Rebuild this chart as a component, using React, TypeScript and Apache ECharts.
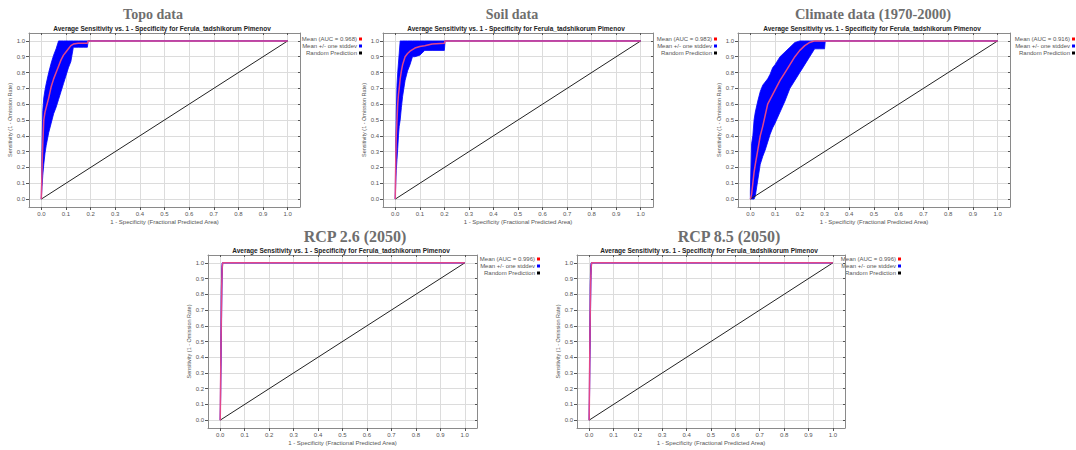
import React, { useEffect, useRef } from "react";
import * as echarts from "echarts";

// ---------- data ----------
const TICKS = [0, 0.1, 0.2, 0.3, 0.4, 0.5, 0.6, 0.7, 0.8, 0.9, 1.0];
const SUBTITLE = "Average Sensitivity vs. 1 - Specificity for Ferula_tadshikorum Pimenov";
const X_NAME = "1 - Specificity (Fractional Predicted Area)";
const Y_NAME = "Sensitivity (1 - Omission Rate)";
const PANEL_TITLES = ["Topo data", "Soil data", "Climate data (1970-2000)", "RCP 2.6 (2050)", "RCP 8.5 (2050)"];
const AUC = ["0.968", "0.983", "0.916", "0.996", "0.996"];
const LEGEND_LABELS = ["Mean (AUC = {auc})", "Mean +/- one stddev", "Random Prediction"];

const RANDOM_X = [0, 1];
const RANDOM_Y = [0, 1];

// Topo
const topoX = [0, 0.003, 0.006, 0.01, 0.015, 0.02, 0.03, 0.04, 0.05, 0.06, 0.07, 0.08, 0.09, 0.1, 0.11, 0.12, 0.13, 0.15, 0.17, 0.187, 0.19, 1.0];
const topoMean = [0, 0.2, 0.35, 0.5, 0.55, 0.58, 0.64, 0.71, 0.76, 0.8, 0.84, 0.88, 0.91, 0.93, 0.95, 0.97, 0.98, 0.985, 0.985, 0.985, 1.0, 1.0];
const topoUpper = [0, 0.35, 0.56, 0.64, 0.69, 0.73, 0.8, 0.86, 0.91, 0.95, 1.0, 1.0, 1.0, 1.0, 1.0, 1.0, 1.0, 1.0, 1.0, 1.0, 1.0, 1.0];
const topoLower = [0, 0.08, 0.15, 0.22, 0.29, 0.34, 0.42, 0.48, 0.54, 0.58, 0.63, 0.68, 0.73, 0.78, 0.83, 0.87, 0.96, 0.96, 0.96, 0.96, 1.0, 1.0];

// Soil
const soilX = [0, 0.002, 0.004, 0.007, 0.01, 0.013, 0.016, 0.02, 0.025, 0.03, 0.04, 0.05, 0.06, 0.07, 0.08, 0.1, 0.12, 0.15, 0.2, 0.203, 1.0];
const soilMean = [0, 0.25, 0.4, 0.5, 0.6, 0.66, 0.7, 0.76, 0.81, 0.85, 0.9, 0.92, 0.935, 0.945, 0.955, 0.965, 0.97, 0.98, 0.985, 1.0, 1.0];
const soilUpper = [0, 0.35, 0.55, 0.72, 0.8, 0.86, 0.92, 1.0, 1.0, 1.0, 1.0, 1.0, 1.0, 1.0, 1.0, 1.0, 1.0, 1.0, 1.0, 1.0, 1.0];
const soilLower = [0, 0.1, 0.18, 0.25, 0.32, 0.4, 0.46, 0.5, 0.58, 0.65, 0.75, 0.81, 0.85, 0.9, 0.9, 0.91, 0.94, 0.94, 0.94, 1.0, 1.0];

// Climate
const climX = [0, 0.005, 0.01, 0.015, 0.02, 0.03, 0.04, 0.05, 0.06, 0.07, 0.08, 0.09, 0.1, 0.12, 0.14, 0.16, 0.18, 0.2, 0.22, 0.24, 0.26, 0.28, 0.3, 0.303, 1.0];
const climMean = [0, 0.03, 0.1, 0.17, 0.22, 0.31, 0.4, 0.46, 0.53, 0.6, 0.63, 0.66, 0.69, 0.75, 0.8, 0.85, 0.9, 0.94, 0.97, 0.99, 1.0, 1.0, 1.0, 1.0, 1.0];
const climUpper = [0.05, 0.35, 0.4, 0.5, 0.55, 0.62, 0.68, 0.72, 0.74, 0.76, 0.79, 0.83, 0.85, 0.9, 0.93, 0.96, 0.99, 1.0, 1.0, 1.0, 1.0, 1.0, 1.0, 1.0, 1.0];
const climLower = [0, 0, 0, 0, 0.02, 0.12, 0.22, 0.27, 0.31, 0.36, 0.41, 0.45, 0.48, 0.55, 0.62, 0.7, 0.75, 0.8, 0.85, 0.9, 0.95, 0.95, 0.95, 1.0, 1.0];

// RCP 2.6
const rcp26X = [0, 0.002, 0.004, 0.006, 0.008, 0.01, 1.0];
const rcp26Mean = [0, 0.3, 0.6, 0.85, 0.97, 1.0, 1.0];
const rcp26Upper = [0, 0.45, 0.8, 0.97, 1.0, 1.0, 1.0];
const rcp26Lower = [0, 0.15, 0.4, 0.7, 0.9, 1.0, 1.0];

// RCP 8.5
const rcp85X = [0, 0.002, 0.004, 0.006, 0.008, 0.01, 1.0];
const rcp85Mean = [0, 0.35, 0.65, 0.88, 0.97, 1.0, 1.0];
const rcp85Upper = [0, 0.5, 0.85, 0.98, 1.0, 1.0, 1.0];
const rcp85Lower = [0, 0.2, 0.45, 0.75, 0.92, 1.0, 1.0];

const PANEL_DATA = [
  { x: topoX, mean: topoMean, upper: topoUpper, lower: topoLower },
  { x: soilX, mean: soilMean, upper: soilUpper, lower: soilLower },
  { x: climX, mean: climMean, upper: climUpper, lower: climLower },
  { x: rcp26X, mean: rcp26Mean, upper: rcp26Upper, lower: rcp26Lower },
  { x: rcp85X, mean: rcp85Mean, upper: rcp85Upper, lower: rcp85Lower },
];

// ---------- layout ----------
const LAYOUT = [
  { grid: { left: 29, top: 33, width: 271, height: 174 }, titleX: 153, titleY: 14, titleSize: 14, subX: 162, subY: 28.5, legX: 357, legY: 39 },
  { grid: { left: 383, top: 33, width: 270, height: 174 }, titleX: 512, titleY: 14, titleSize: 14, subX: 516, subY: 28.5, legX: 712, legY: 39 },
  { grid: { left: 738, top: 33, width: 272, height: 174 }, titleX: 873, titleY: 14, titleSize: 14.5, subX: 872, subY: 28.5, legX: 1070, legY: 39 },
  { grid: { left: 208, top: 255, width: 269, height: 173 }, titleX: 355, titleY: 236, titleSize: 16, subX: 341, subY: 250, legX: 535, legY: 259 },
  { grid: { left: 577, top: 255, width: 268, height: 173 }, titleX: 729, titleY: 236, titleSize: 16, subX: 709, subY: 250, legX: 896, legY: 259 },
];

const FRAME = "#8a8a8a";
const GRIDLINE = "#dcdcdc";
const LABEL = "#555555";
const MEAN_COLOR = "#e2468a";
const BAND_COLOR = "#0000ff";
const LEGEND_SQ = ["#ff0000", "#0000ff", "#000000"];

function buildOption() {
  const grid: any[] = [];
  const xAxis: any[] = [];
  const yAxis: any[] = [];
  const series: any[] = [];
  const graphic: any[] = [];
  const fmt = (v: number) => v.toFixed(1);

  LAYOUT.forEach((L, i) => {
    grid.push({ ...L.grid, containLabel: false, show: false });
    const base = {
      type: "value",
      gridIndex: i,
      min: -0.05,
      max: 1.05,
      axisLine: { show: true, onZero: false, lineStyle: { color: FRAME, width: 1 } },
    };
    xAxis.push({
      ...base,
      position: "bottom",
      axisTick: { show: true, customValues: TICKS, length: 3, lineStyle: { color: "#555" } },
      axisLabel: { show: true, customValues: TICKS, formatter: fmt, fontSize: 6, color: LABEL, margin: 4 },
      splitLine: { show: true, lineStyle: { color: GRIDLINE, width: 1 } },
      name: X_NAME,
      nameLocation: "middle",
      nameGap: 12,
      nameTextStyle: { fontSize: 6, color: LABEL },
    });
    xAxis.push({
      ...base,
      position: "top",
      axisTick: { show: true, inside: true, customValues: TICKS, length: 2, lineStyle: { color: "#555" } },
      axisLabel: { show: false },
      splitLine: { show: false },
    });
    yAxis.push({
      ...base,
      position: "left",
      axisTick: { show: true, customValues: TICKS, length: 3, lineStyle: { color: "#555" } },
      axisLabel: { show: true, customValues: TICKS, formatter: fmt, fontSize: 6, color: LABEL, margin: 4 },
      splitLine: { show: true, lineStyle: { color: GRIDLINE, width: 1 } },
      name: Y_NAME,
      nameLocation: "middle",
      nameGap: 14,
      nameTextStyle: { fontSize: 5.5, color: LABEL },
    });
    yAxis.push({
      ...base,
      position: "right",
      axisTick: { show: true, inside: true, customValues: TICKS, length: 2, lineStyle: { color: "#555" } },
      axisLabel: { show: false },
      splitLine: { show: false },
    });

    const D = PANEL_DATA[i];
    series.push({
      type: "custom",
      name: "band" + i,
      xAxisIndex: 2 * i,
      yAxisIndex: 2 * i,
      silent: true,
      z: 2,
      data: [[0, 0]],
      renderItem: (_p: any, api: any) => {
        const pts: number[][] = [];
        for (let k = 0; k < D.x.length; k++) pts.push(api.coord([D.x[k], D.upper[k]]));
        for (let k = D.x.length - 1; k >= 0; k--) pts.push(api.coord([D.x[k], D.lower[k]]));
        return {
          type: "polygon",
          shape: { points: pts },
          style: { fill: BAND_COLOR, stroke: BAND_COLOR, lineWidth: 0.8 },
        };
      },
    });
    series.push({
      type: "line",
      name: "random" + i,
      xAxisIndex: 2 * i,
      yAxisIndex: 2 * i,
      silent: true,
      z: 3,
      symbol: "none",
      data: RANDOM_X.map((x, k) => [x, RANDOM_Y[k]]),
      lineStyle: { color: "#222222", width: 1 },
    });
    series.push({
      type: "line",
      name: "mean" + i,
      xAxisIndex: 2 * i,
      yAxisIndex: 2 * i,
      silent: true,
      z: 4,
      symbol: "none",
      data: D.x.map((x, k) => [x, D.mean[k]]),
      lineStyle: { color: MEAN_COLOR, width: 1.5 },
    });

    // titles
    graphic.push({
      type: "text",
      x: L.titleX,
      y: L.titleY,
      style: {
        text: PANEL_TITLES[i],
        fill: "#6e6e6e",
        font: `bold ${L.titleSize}px 'Liberation Serif'`,
        textAlign: "center",
        textVerticalAlign: "middle",
        align: "center",
        verticalAlign: "middle",
      },
    });
    graphic.push({
      type: "text",
      x: L.subX,
      y: L.subY,
      style: {
        text: SUBTITLE,
        fill: "#222222",
        font: "bold 6.5px 'Liberation Sans'",
        textAlign: "center",
        textVerticalAlign: "middle",
        align: "center",
        verticalAlign: "middle",
      },
    });
    // legend
    LEGEND_LABELS.forEach((lab, j) => {
      const txt = lab.replace("{auc}", AUC[i]);
      graphic.push({
        type: "text",
        x: L.legX,
        y: L.legY + j * 7,
        style: {
          text: txt,
          fill: "#555555",
          font: "6px 'Liberation Sans'",
          textAlign: "right",
          textVerticalAlign: "middle",
          align: "right",
          verticalAlign: "middle",
        },
      });
      graphic.push({
        type: "rect",
        shape: { x: L.legX + 2, y: L.legY + j * 7 - 1.5, width: 3, height: 3 },
        style: { fill: LEGEND_SQ[j] },
      });
    });
  });

  return {
    animation: false,
    backgroundColor: "#ffffff",
    textStyle: { fontFamily: "'Liberation Sans', Arial, sans-serif" },
    grid,
    xAxis,
    yAxis,
    series,
    graphic,
  };
}

export default function App() {
  const ref = useRef<HTMLDivElement | null>(null);
  useEffect(() => {
    if (!ref.current) return;
    const chart = echarts.init(ref.current, undefined, { renderer: "svg" });
    chart.setOption(buildOption() as any);
    return () => chart.dispose();
  }, []);
  return (
    <div
      ref={ref}
      style={{ position: "fixed", left: 0, top: 0, width: 1076, height: 450, background: "#fff" }}
    />
  );
}
